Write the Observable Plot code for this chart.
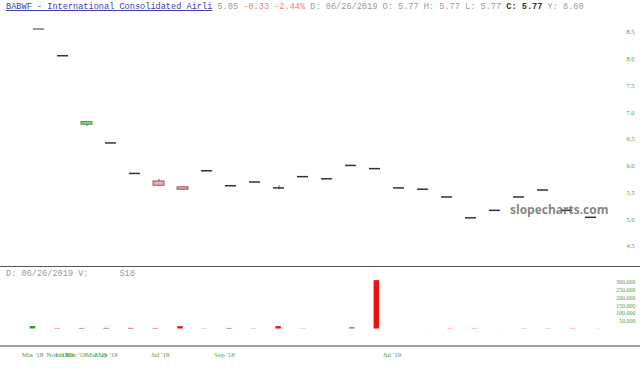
<!DOCTYPE html>
<html><head><meta charset="utf-8">
<script src="https://cdn.jsdelivr.net/npm/d3@7"></script>
<script src="https://cdn.jsdelivr.net/npm/@observablehq/plot@0.6"></script>
<style>
body{margin:0;background:#fff;}
#wrap{position:relative;width:640px;height:368px;overflow:hidden;background:#fff;}
#wrap svg{position:absolute;left:0;background:transparent;}
.mono{position:absolute;font-family:"Liberation Mono",monospace;white-space:pre;font-size:8.6px;line-height:10px;color:#9a9a9a;}
.sym{color:#3c3cb4;text-decoration:underline;}
.chg{color:#f08080;}
.cl{color:#333;font-weight:bold;}
#wm{position:absolute;left:510px;top:204px;font-family:"Open Sans",sans-serif;font-weight:700;font-size:12px;line-height:12px;color:rgba(110,110,110,0.85);white-space:pre;}
.sep{position:absolute;left:0;width:640px;}
</style></head><body>
<div id="wrap">
  <div id="price"></div>
  <div id="vol"></div>
  <div class="sep" style="top:266px;height:1px;background:#555;"></div>
  <div class="sep" style="top:345px;height:2px;background:#a0a0a0;"></div>
  <div class="mono" style="left:6px;top:2px;"><span class="sym">BABWF - International Consolidated Airli</span> 5.05 <span class="chg">-0.33 -2.44%</span> D: 06/26/2019 O: 5.77 H: 5.77 L: 5.77 <span class="cl">C: 5.77</span> Y: 8.60</div>
  <div class="mono" style="left:6px;top:269px;">D: 06/26/2019 V:      518</div>
  <div id="wm">slopecharts.com</div>
</div>
<script>
// ---- data ----
const opens  = [8.56, 8.06, 6.77, 6.43, 5.86, 5.71, 5.60, 5.91, 5.63, 5.70, 5.59, 5.80, 5.76, 6.01, 5.95, 5.59, 5.565, 5.42, 5.03, 5.17, 5.42, 5.55, 5.17, 5.04];
const highs  = [8.56, 8.06, 6.83, 6.43, 5.86, 5.75, 5.60, 5.91, 5.63, 5.70, 5.63, 5.80, 5.76, 6.01, 5.95, 5.59, 5.565, 5.42, 5.03, 5.17, 5.42, 5.55, 5.17, 5.04];
const lows   = [8.56, 8.06, 6.74, 6.43, 5.86, 5.63, 5.555, 5.91, 5.63, 5.70, 5.555, 5.80, 5.76, 6.01, 5.95, 5.59, 5.565, 5.42, 5.03, 5.17, 5.42, 5.55, 5.17, 5.04];
const closes = [8.56, 8.06, 6.82, 6.43, 5.86, 5.63, 5.555, 5.91, 5.63, 5.70, 5.59, 5.80, 5.76, 6.01, 5.95, 5.59, 5.565, 5.42, 5.03, 5.17, 5.42, 5.55, 5.17, 5.04];
const volumes = [16000, 2500, 3000, 4000, 4000, 2500, 15000, 1500, 3000, 1500, 15000, 1500, 300, 8000, 310000, 300, 300, 1500, 1500, 300, 1500, 1500, 1500, 518];
const priceTicks = [4.5, 5.0, 5.5, 6.0, 6.5, 7.0, 7.5, 8.0, 8.5];
const volTicks = [50000, 100000, 150000, 200000, 250000, 300000];
const xTickLabels = ["Mar '18", "Nov '18", "Jan '19", "Mar '19", "Mar '19", "May '19", "Jul '18", "Sep '18", "Jul '19"];
const xTickPos    = [0, 1.02, 1.3, 1.75, 2.6, 3.0, 5.21, 7.82, 14.64];

const candles = opens.map((o, i) => ({i, open: o, high: highs[i], low: lows[i], close: closes[i]}));
const bodies = candles.filter(d => d.open !== d.close);
const dojis = candles.filter(d => d.open === d.close);
const wicks = candles.filter(d => d.high > d.low);
const vols = volumes.map((v, i) => ({i, v, up: i === 0 ? true : closes[i] >= closes[i - 1]}));
const xTicks = xTickLabels.map((t, k) => ({t, p: xTickPos[k]}));

const green = "#4f9d4f";
const n = opens.length;
const step = 24.56;
const x0 = 32;

const price = Plot.plot({
  width: 640, height: 266,
  marginLeft: 0, marginRight: 0, marginTop: 0, marginBottom: 0,
  style: {background: "transparent", overflow: "visible"},
  x: {type: "band", domain: d3.range(n), range: [x0 - step / 2, x0 - step / 2 + n * step], paddingInner: 0.54, paddingOuter: 0.27, axis: null},
  y: {domain: [4.5, 8.5], range: [245.7, 31.7], axis: null},
  marks: [
    Plot.ruleX(wicks, {x: "i", y1: "low", y2: "high", stroke: "#555", strokeWidth: 1}),
    Plot.barY(bodies, {x: "i", y1: "open", y2: "close", fill: d => d.close > d.open ? "#92d392" : "#f5a8b2", stroke: d => d.close > d.open ? "#4e8f4e" : "#8a5a60", strokeWidth: 1}),
    Plot.tickY(dojis, {x: "i", y: "close", stroke: d => d.i === 0 ? "#999" : "#333", strokeWidth: d => d.i === 0 ? 2 : 1.5}),
    Plot.text(priceTicks, {y: d => d, text: d => d.toFixed(1), frameAnchor: "right", dx: -10, textAnchor: "middle", fill: green, fontSize: 6.5, fontFamily: "Liberation Serif, serif"})
  ]
});
price.style.top = "0px";
document.getElementById("price").appendChild(price);

const vol = Plot.plot({
  width: 640, height: 102,
  marginLeft: 0, marginRight: 0, marginTop: 0, marginBottom: 22,
  style: {background: "transparent", overflow: "visible"},
  x: {type: "linear", domain: [0, n - 1], range: [x0, x0 + (n - 1) * step], axis: null},
  y: {domain: [0, 300000], range: [62.5, 15.7], axis: null},
  marks: [
    Plot.ruleX(vols, {x: "i", y1: 0, y2: "v", stroke: d => d.up ? "#2e9a2e" : "#ee1111", strokeWidth: 5.5}),
    Plot.text(volTicks, {y: d => d, text: d => d3.format(",")(d), frameAnchor: "right", dx: -5, textAnchor: "end", fill: green, fontSize: 6, fontFamily: "Liberation Serif, serif"}),
    Plot.text(xTicks, {x: "p", text: "t", frameAnchor: "bottom", dy: 10, textAnchor: "middle", fill: green, fontSize: 7, fontFamily: "Liberation Serif, serif"})
  ]
});
vol.style.top = "266px";
document.getElementById("vol").appendChild(vol);
</script>
</body></html>
